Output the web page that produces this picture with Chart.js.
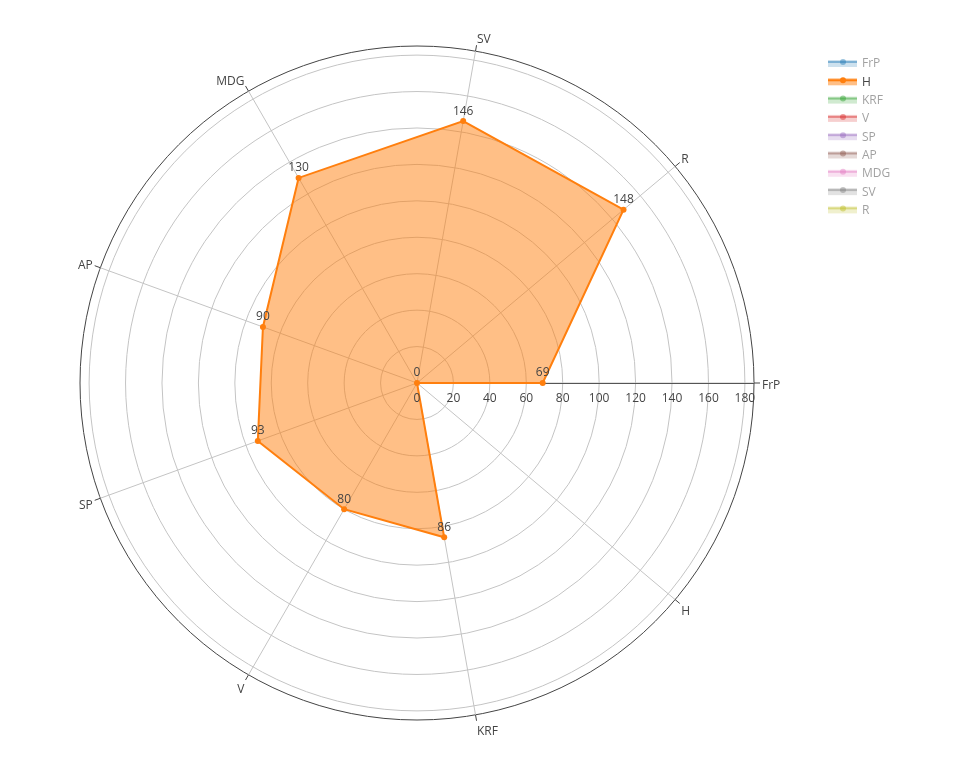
<!DOCTYPE html>
<html>
<head>
<meta charset="utf-8">
<title>H</title>
<script src="https://cdn.jsdelivr.net/npm/chart.js@4/dist/chart.umd.min.js"></script>
<style>
    html, body { margin: 0; padding: 0; background: #fff; }
    #chart { display: block; }
</style>
</head>
<body>
<canvas id="chart" width="960" height="768"></canvas>
<script>
// Categories (angular axis), clockwise from east
const categories = ['FrP', 'H', 'KRF', 'V', 'SP', 'AP', 'MDG', 'SV', 'R'];
// Only the H trace is visible, the rest are legend-only
const hValues = [69, 0, 86, 80, 93, 90, 130, 146, 148];
const seriesNames = ['FrP', 'H', 'KRF', 'V', 'SP', 'AP', 'MDG', 'SV', 'R'];
const seriesColors = ['31,119,180', '255,127,14', '44,160,44', '214,39,40', '148,103,189',
    '140,86,75', '227,119,194', '127,127,127', '188,189,34'];
const radialTicks = [0, 20, 40, 60, 80, 100, 120, 140, 160, 180];
const radialMax = 185;

const FONT = '12px "Open Sans", "DejaVu Sans", sans-serif';
const TEXT = '#444';

const datasets = seriesNames.map((name, i) => ({
    label: name,
    data: name === 'H' ? hValues : [],
    hidden: name !== 'H',
    fill: true,
    backgroundColor: `rgba(${seriesColors[i]},0.5)`,
    borderColor: `rgb(${seriesColors[i]})`,
    borderWidth: 2,
    pointRadius: 3,
    pointBorderWidth: 0,
    pointBackgroundColor: `rgb(${seriesColors[i]})`,
    tension: 0
}));

// radial axis line, drawn below the traces
const radialAxisLine = {
    id: 'radialAxisLine',
    beforeDatasetsDraw(chart) {
        const r = chart.scales.r;
        const ctx = chart.ctx;
        const end = r.getPointPosition(0, r.getDistanceFromCenterForValue(radialMax));
        ctx.save();
        ctx.strokeStyle = '#555';
        ctx.lineWidth = 1;
        ctx.beginPath();
        ctx.moveTo(r.xCenter, r.yCenter + 0.5);
        ctx.lineTo(end.x, end.y + 0.5);
        ctx.stroke();
        ctx.restore();
    }
};

const overlay = {
    id: 'overlay',
    afterDatasetsDraw(chart) {
        const r = chart.scales.r;
        const ctx = chart.ctx;
        ctx.save();
        ctx.font = FONT;
        ctx.fillStyle = TEXT;

        // value labels above each point
        chart.data.datasets.forEach((ds, di) => {
            if (!chart.isDatasetVisible(di)) return;
            const meta = chart.getDatasetMeta(di);
            meta.data.forEach((pt, j) => {
                ctx.textAlign = 'center';
                ctx.textBaseline = 'middle';
                ctx.fillText(String(ds.data[j]), pt.x, pt.y - 10);
            });
        });

        // radial tick labels under the axis
        ctx.textAlign = 'center';
        ctx.textBaseline = 'middle';
        radialTicks.forEach(v => {
            const p = r.getPointPosition(0, r.getDistanceFromCenterForValue(v));
            ctx.fillText(String(v), p.x, p.y + 16);
        });

        // angular ticks and category labels
        const outer = r.getDistanceFromCenterForValue(radialMax);
        ctx.strokeStyle = TEXT;
        ctx.lineWidth = 1;
        categories.forEach((cat, i) => {
            const a = r.getPointPosition(i, outer);
            const b = r.getPointPosition(i, outer + 6);
            ctx.beginPath();
            ctx.moveTo(a.x, a.y);
            ctx.lineTo(b.x, b.y);
            ctx.stroke();

            const p = r.getPointPosition(i, outer + 8);
            const c = Math.cos(p.angle), s = Math.sin(p.angle);
            ctx.textAlign = c > 0.05 ? 'left' : (c < -0.05 ? 'right' : 'center');
            ctx.textBaseline = 'middle';
            ctx.fillText(cat, p.x, p.y + s * 6 + 2.5);
        });
        ctx.restore();
    },
    afterDraw(chart) {
        // plotly-like legend, legend-only traces faded
        const ctx = chart.ctx;
        ctx.save();
        ctx.font = FONT;
        chart.data.datasets.forEach((ds, i) => {
            const cy = 62 + i * 18.3;
            const op = chart.isDatasetVisible(i) ? 1 : 0.45;
            const rgb = seriesColors[i];
            ctx.fillStyle = `rgba(${rgb},${0.5 * op})`;
            ctx.fillRect(828, cy - 2, 29, 7);
            ctx.strokeStyle = `rgba(${rgb},${op})`;
            ctx.lineWidth = 2;
            ctx.beginPath();
            ctx.moveTo(828, cy);
            ctx.lineTo(857, cy);
            ctx.stroke();
            ctx.fillStyle = `rgba(${rgb},${op})`;
            ctx.beginPath();
            ctx.arc(843, cy, 3, 0, Math.PI * 2);
            ctx.fill();
            ctx.fillStyle = op === 1 ? TEXT : 'rgba(68,68,68,0.5)';
            ctx.textAlign = 'left';
            ctx.textBaseline = 'middle';
            ctx.fillText(ds.label, 862, cy + 2);
        });
        ctx.restore();
    }
};

new Chart(document.getElementById('chart'), {
    type: 'radar',
    data: { labels: categories, datasets: datasets },
    options: {
        responsive: false,
        animation: false,
        layout: { padding: { left: 80, top: 46, right: 206, bottom: 48 } },
        plugins: {
            legend: { display: false },
            tooltip: { enabled: false }
        },
        scales: {
            r: {
                min: 0,
                max: radialMax,
                startAngle: 90,
                ticks: { display: false, stepSize: 20 },
                pointLabels: { display: false },
                grid: {
                    circular: true,
                    color: (c) => (c.tick && c.tick.value === radialMax) ? '#444' : '#c4c4c4',
                    lineWidth: 1
                },
                angleLines: { color: '#c4c4c4', lineWidth: 1 }
            }
        }
    },
    plugins: [radialAxisLine, overlay]
});
</script>
</body>
</html>
